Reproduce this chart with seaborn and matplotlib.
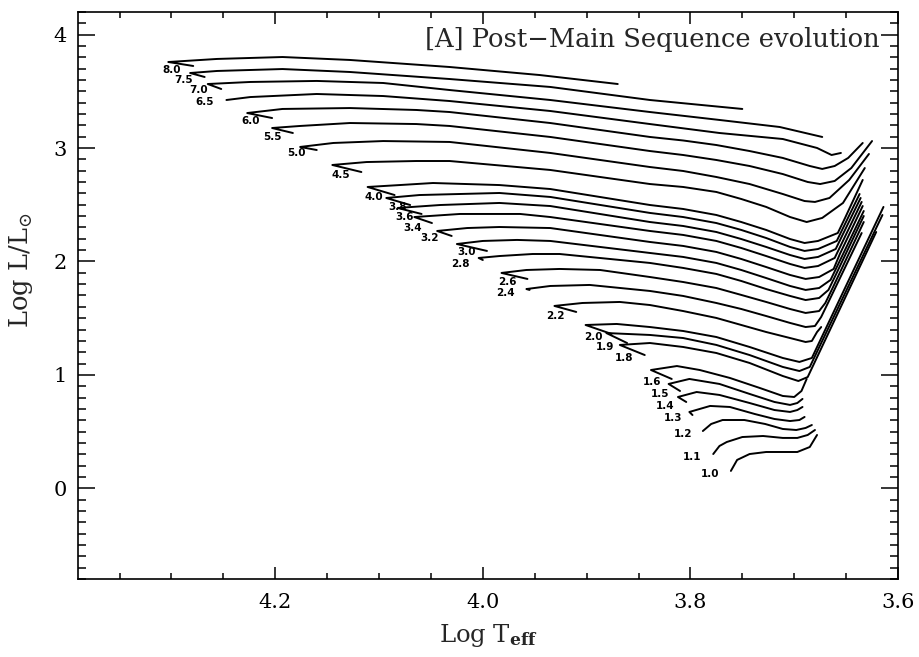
import numpy as np
import pandas as pd
import matplotlib
matplotlib.use('Agg')
import matplotlib.pyplot as plt
from matplotlib.ticker import MultipleLocator, FormatStrFormatter
import seaborn as sns

# masses of the tracks (Msun), top to bottom
masses = ['8.0', '7.5', '7.0', '6.5', '6.0', '5.5', '5.0', '4.5', '4.0', '3.8', '3.6', '3.4',
          '3.2', '3.0', '2.8', '2.6', '2.4', '2.2', '2.0', '1.9', '1.8', '1.6', '1.5', '1.4',
          '1.3', '1.2', '1.1', '1.0']

# track points (log Teff, log L/Lsun)
logT_8_0 = [4.279, 4.303, 4.256, 4.193, 4.128, 4.032, 3.945, 3.870]
logL_8_0 = [3.724, 3.759, 3.786, 3.803, 3.777, 3.715, 3.644, 3.565]
logT_7_5 = [4.268, 4.282, 4.256, 4.193, 4.128, 4.032, 3.935, 3.839, 3.750]
logL_7_5 = [3.627, 3.662, 3.680, 3.697, 3.671, 3.609, 3.539, 3.424, 3.345]
logT_7_0 = [4.252, 4.265, 4.224, 4.160, 4.096, 4.032, 3.935, 3.839, 3.772, 3.714, 3.673]
logL_7_0 = [3.521, 3.565, 3.583, 3.592, 3.574, 3.512, 3.424, 3.318, 3.248, 3.186, 3.098]
logT_6_5 = [4.247, 4.224, 4.160, 4.096, 4.032, 3.935, 3.839, 3.772, 3.711, 3.678, 3.664, 3.655]
logL_6_5 = [3.424, 3.450, 3.477, 3.459, 3.415, 3.327, 3.212, 3.133, 3.080, 3.001, 2.939, 2.957]
logT_6_0 = [4.203, 4.227, 4.193, 4.128, 4.064, 4.032, 3.935, 3.839, 3.807, 3.775, 3.743, 3.711,
            3.685, 3.673, 3.661, 3.648, 3.634]
logL_6_0 = [3.265, 3.309, 3.345, 3.353, 3.336, 3.318, 3.221, 3.098, 3.067, 3.027, 2.974, 2.913,
            2.842, 2.816, 2.842, 2.913, 3.045]
logT_5_5 = [4.183, 4.203, 4.176, 4.128, 4.064, 4.032, 3.935, 3.839, 3.807, 3.775, 3.743, 3.711,
            3.687, 3.675, 3.661, 3.645, 3.625]
logL_5_5 = [3.133, 3.177, 3.195, 3.221, 3.212, 3.195, 3.098, 2.974, 2.939, 2.895, 2.842, 2.771,
            2.701, 2.683, 2.710, 2.824, 3.062]
logT_5_0 = [4.160, 4.176, 4.144, 4.096, 4.032, 3.935, 3.839, 3.807, 3.775, 3.743, 3.711, 3.690,
            3.680, 3.666, 3.647, 3.628]
logL_5_0 = [2.983, 3.010, 3.045, 3.062, 3.054, 2.957, 2.833, 2.798, 2.745, 2.683, 2.595, 2.533,
            2.525, 2.560, 2.719, 2.948]
logT_4_5 = [4.117, 4.145, 4.112, 4.064, 4.032, 3.935, 3.839, 3.807, 3.775, 3.751, 3.727, 3.704,
            3.688, 3.673, 3.653, 3.632]
logL_4_5 = [2.789, 2.851, 2.877, 2.886, 2.886, 2.807, 2.683, 2.657, 2.613, 2.551, 2.481, 2.392,
            2.348, 2.384, 2.516, 2.824]
logT_4_0 = [4.085, 4.111, 4.080, 4.048, 3.984, 3.935, 3.839, 3.807, 3.775, 3.751, 3.727, 3.704,
            3.690, 3.677, 3.658, 3.651, 3.634]
logL_4_0 = [2.586, 2.657, 2.674, 2.692, 2.674, 2.639, 2.498, 2.463, 2.410, 2.348, 2.278, 2.198,
            2.163, 2.181, 2.251, 2.384, 2.719]
logT_3_8 = [4.070, 4.093, 4.061, 3.984, 3.935, 3.839, 3.807, 3.775, 3.751, 3.727, 3.704, 3.690,
            3.677, 3.659, 3.652, 3.637]
logL_3_8 = [2.498, 2.560, 2.586, 2.604, 2.569, 2.428, 2.392, 2.339, 2.278, 2.207, 2.128, 2.093,
            2.110, 2.181, 2.313, 2.595]
logT_3_6 = [4.059, 4.082, 4.041, 3.984, 3.935, 3.839, 3.807, 3.775, 3.751, 3.727, 3.704, 3.690,
            3.677, 3.660, 3.653, 3.636]
logL_3_6 = [2.419, 2.472, 2.498, 2.516, 2.489, 2.348, 2.313, 2.260, 2.198, 2.128, 2.057, 2.022,
            2.040, 2.110, 2.242, 2.560]
logT_3_4 = [4.049, 4.066, 4.022, 3.964, 3.935, 3.839, 3.807, 3.775, 3.751, 3.727, 3.704, 3.690,
            3.677, 3.661, 3.654, 3.635]
logL_3_4 = [2.339, 2.392, 2.419, 2.419, 2.392, 2.269, 2.234, 2.181, 2.119, 2.048, 1.978, 1.943,
            1.960, 2.031, 2.163, 2.525]
logT_3_2 = [4.030, 4.044, 4.015, 3.984, 3.935, 3.839, 3.807, 3.775, 3.751, 3.727, 3.704, 3.689,
            3.676, 3.662, 3.656, 3.634]
logL_3_2 = [2.225, 2.269, 2.295, 2.304, 2.295, 2.172, 2.137, 2.084, 2.022, 1.951, 1.881, 1.846,
            1.863, 1.934, 2.066, 2.489]
logT_3_0 = [3.996, 4.025, 4.000, 3.967, 3.935, 3.839, 3.807, 3.775, 3.751, 3.727, 3.704, 3.689,
            3.676, 3.665, 3.658, 3.633]
logL_3_0 = [2.093, 2.154, 2.181, 2.190, 2.181, 2.075, 2.040, 1.987, 1.925, 1.854, 1.784, 1.749,
            1.766, 1.837, 1.969, 2.445]
logT_2_8 = [4.000, 4.004, 3.984, 3.952, 3.926, 3.839, 3.807, 3.775, 3.751, 3.727, 3.704, 3.689,
            3.676, 3.667, 3.660, 3.633]
logL_2_8 = [2.013, 2.031, 2.048, 2.066, 2.066, 1.987, 1.943, 1.890, 1.828, 1.757, 1.696, 1.660,
            1.678, 1.749, 1.881, 2.401]
logT_2_6 = [3.957, 3.982, 3.958, 3.926, 3.887, 3.839, 3.807, 3.775, 3.751, 3.727, 3.704, 3.689,
            3.676, 3.670, 3.663, 3.633]
logL_2_6 = [1.846, 1.899, 1.925, 1.934, 1.925, 1.863, 1.819, 1.766, 1.705, 1.643, 1.581, 1.546,
            1.563, 1.634, 1.766, 2.348]
logT_2_4 = [3.955, 3.958, 3.935, 3.897, 3.839, 3.807, 3.775, 3.751, 3.727, 3.704, 3.689, 3.680,
            3.674, 3.667, 3.635]
logL_2_4 = [1.749, 1.757, 1.784, 1.793, 1.740, 1.696, 1.634, 1.581, 1.519, 1.458, 1.422, 1.431,
            1.511, 1.643, 2.251]
logT_2_2 = [3.910, 3.931, 3.904, 3.868, 3.839, 3.807, 3.775, 3.751, 3.727, 3.704, 3.689, 3.683,
            3.678, 3.674]
logL_2_2 = [1.555, 1.608, 1.634, 1.643, 1.616, 1.563, 1.502, 1.440, 1.378, 1.325, 1.290, 1.299,
            1.378, 1.422]
logT_2_0 = [3.876, 3.901, 3.871, 3.839, 3.807, 3.775, 3.743, 3.711, 3.695, 3.683, 3.614]
logL_2_0 = [1.361, 1.440, 1.449, 1.422, 1.387, 1.334, 1.246, 1.149, 1.114, 1.149, 2.481]
logT_1_9 = [3.861, 3.881, 3.839, 3.807, 3.775, 3.743, 3.711, 3.695, 3.685, 3.615]
logL_1_9 = [1.281, 1.369, 1.352, 1.325, 1.264, 1.175, 1.070, 1.034, 1.070, 2.410]
logT_1_8 = [3.844, 3.868, 3.839, 3.807, 3.775, 3.743, 3.711, 3.696, 3.687, 3.621]
logL_1_8 = [1.175, 1.264, 1.281, 1.246, 1.193, 1.105, 0.990, 0.946, 0.981, 2.260]
logT_1_6 = [3.818, 3.838, 3.813, 3.791, 3.762, 3.733, 3.711, 3.700, 3.693, 3.688]
logL_1_6 = [0.964, 1.043, 1.078, 1.043, 0.973, 0.884, 0.814, 0.805, 0.858, 0.964]
logT_1_5 = [3.810, 3.821, 3.801, 3.772, 3.743, 3.719, 3.704, 3.697, 3.692]
logL_1_5 = [0.858, 0.920, 0.964, 0.920, 0.832, 0.761, 0.735, 0.752, 0.788]
logT_1_4 = [3.804, 3.812, 3.794, 3.772, 3.743, 3.719, 3.704, 3.697, 3.692]
logL_1_4 = [0.761, 0.805, 0.849, 0.823, 0.752, 0.690, 0.673, 0.690, 0.717]
logT_1_3 = [3.798, 3.801, 3.781, 3.762, 3.738, 3.719, 3.704, 3.695, 3.690]
logL_1_3 = [0.646, 0.673, 0.726, 0.717, 0.655, 0.611, 0.593, 0.602, 0.629]
logT_1_2 = [3.788, 3.780, 3.769, 3.748, 3.728, 3.711, 3.698, 3.689, 3.683]
logL_1_2 = [0.505, 0.567, 0.602, 0.602, 0.567, 0.523, 0.514, 0.532, 0.558]
logT_1_1 = [3.778, 3.772, 3.765, 3.750, 3.730, 3.711, 3.697, 3.687, 3.680]
logL_1_1 = [0.302, 0.373, 0.408, 0.452, 0.461, 0.444, 0.444, 0.470, 0.514]
logT_1_0 = [3.761, 3.755, 3.743, 3.727, 3.711, 3.697, 3.685, 3.678]
logL_1_0 = [0.153, 0.250, 0.302, 0.320, 0.320, 0.320, 0.364, 0.470]

# where the mass labels sit (same order as masses)
lab_logT = [4.300, 4.288, 4.274, 4.268, 4.224, 4.203, 4.180, 4.137, 4.105, 4.082, 4.075, 4.068,
            4.051, 4.016, 4.022, 3.976, 3.978, 3.930, 3.893, 3.882, 3.864, 3.837, 3.829, 3.824,
            3.817, 3.807, 3.798, 3.781]
lab_logL = [3.689, 3.600, 3.512, 3.406, 3.239, 3.098, 2.957, 2.763, 2.569, 2.482, 2.392, 2.296,
            2.207, 2.082, 1.980, 1.819, 1.722, 1.519, 1.334, 1.246, 1.149, 0.937, 0.832, 0.726,
            0.620, 0.479, 0.276, 0.126]

tracks = {
    '8.0': (logT_8_0, logL_8_0), '7.5': (logT_7_5, logL_7_5), '7.0': (logT_7_0, logL_7_0),
    '6.5': (logT_6_5, logL_6_5), '6.0': (logT_6_0, logL_6_0), '5.5': (logT_5_5, logL_5_5),
    '5.0': (logT_5_0, logL_5_0), '4.5': (logT_4_5, logL_4_5), '4.0': (logT_4_0, logL_4_0),
    '3.8': (logT_3_8, logL_3_8), '3.6': (logT_3_6, logL_3_6), '3.4': (logT_3_4, logL_3_4),
    '3.2': (logT_3_2, logL_3_2), '3.0': (logT_3_0, logL_3_0), '2.8': (logT_2_8, logL_2_8),
    '2.6': (logT_2_6, logL_2_6), '2.4': (logT_2_4, logL_2_4), '2.2': (logT_2_2, logL_2_2),
    '2.0': (logT_2_0, logL_2_0), '1.9': (logT_1_9, logL_1_9), '1.8': (logT_1_8, logL_1_8),
    '1.6': (logT_1_6, logL_1_6), '1.5': (logT_1_5, logL_1_5), '1.4': (logT_1_4, logL_1_4),
    '1.3': (logT_1_3, logL_1_3), '1.2': (logT_1_2, logL_1_2), '1.1': (logT_1_1, logL_1_1),
    '1.0': (logT_1_0, logL_1_0),
}

rows = []
for m in masses:
    t, l = tracks[m]
    for i, (x, y) in enumerate(zip(t, l)):
        rows.append((m, i, x, y))
df = pd.DataFrame(rows, columns=['mass', 'step', 'logT', 'logL'])

sns.set_style('ticks')
plt.rcParams['font.family'] = ['DejaVu Serif']
plt.rcParams['mathtext.fontset'] = 'dejavuserif'

W, H = 919, 657
fig = plt.figure(figsize=(W / 100, H / 100), dpi=100)
ax = fig.add_axes([78 / W, 1 - 579 / H, 820 / W, 567 / H])

sns.lineplot(data=df, x='logT', y='logL', units='mass', estimator=None, sort=False,
             color='black', lw=1.4, ax=ax, legend=False)

for m, x, y in zip(masses, lab_logT, lab_logL):
    ax.text(x, y, m, fontsize=7.5, ha='center', va='center', color='black',
            family='DejaVu Sans', fontweight='bold')

ax.set_xlim(4.39, 3.6)
ax.set_ylim(-0.8, 4.2)
ax.xaxis.set_major_locator(MultipleLocator(0.2))
ax.xaxis.set_minor_locator(MultipleLocator(0.05))
ax.yaxis.set_major_locator(MultipleLocator(1))
ax.yaxis.set_minor_locator(MultipleLocator(0.1))
ax.xaxis.set_major_formatter(FormatStrFormatter('%.1f'))
ax.yaxis.set_major_formatter(FormatStrFormatter('%d'))

ax.tick_params(which='both', direction='in', top=True, right=True, width=1.1,
               color='black', labelsize=15, labelcolor='black')
ax.tick_params(axis='x', which='major', length=8.6, pad=10)
ax.tick_params(axis='x', which='minor', length=4.3)
ax.tick_params(axis='y', which='major', length=12.2, pad=8)
ax.tick_params(axis='y', which='minor', length=6.1)
for s in ax.spines.values():
    s.set_linewidth(1.2)
    s.set_color('black')

ax.set_xlabel(r'Log T$_{\mathbf{eff}}$', fontsize=17.5, labelpad=7)
ax.set_ylabel(r'Log L/L$_{\odot}$', fontsize=18.5)
ax.yaxis.set_label_coords(-0.052, 0.545)
ax.text(0.978, 0.951, '[A] Post\u2212Main Sequence evolution', transform=ax.transAxes,
        ha='right', va='center', fontsize=18.5)

fig.savefig('out.png', dpi=100)
